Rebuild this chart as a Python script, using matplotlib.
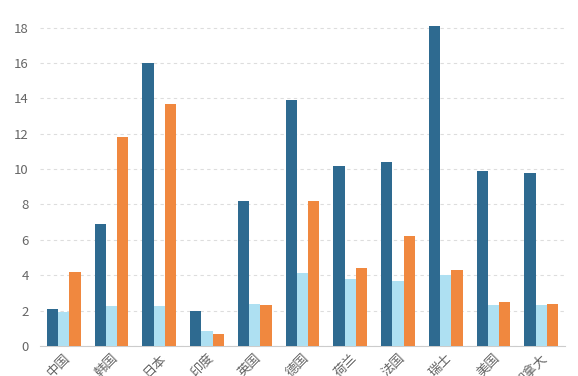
import matplotlib
matplotlib.use("Agg")
import matplotlib.pyplot as plt
import numpy as np

plt.rcParams['font.family'] = ['Noto Sans CJK SC', 'DejaVu Sans']

categories = ["中国", "韩国", "日本", "印度", "英国", "德国", "荷兰", "法国", "瑞士", "美国", "加拿大"]
series_a = [2.1, 6.9, 16.0, 2.0, 8.2, 13.9, 10.2, 10.4, 18.1, 9.9, 9.8]
series_b = [1.95, 2.25, 2.25, 0.85, 2.35, 4.1, 3.8, 3.65, 4.0, 2.3, 2.3]
series_c = [4.2, 11.8, 13.7, 0.7, 2.3, 8.2, 4.4, 6.2, 4.3, 2.5, 2.4]
yticks = [0, 2, 4, 6, 8, 10, 12, 14, 16, 18]

colors = ["#2e6a90", "#aee0f2", "#f0883f"]

fig = plt.figure(figsize=(5.78, 3.76), dpi=100)
ax = fig.add_axes([40/578, 30/376, 525/578, (346-17)/376])

x = np.arange(len(categories))
w = 0.235
ax.bar(x - w, series_a, w, color=colors[0], zorder=3)
ax.bar(x, series_b, w, color=colors[1], zorder=3)
ax.bar(x + w, series_c, w, color=colors[2], zorder=3)

ax.set_xlim(-0.5, len(categories) - 0.5)
ax.set_ylim(0, 18.6)
ax.set_yticks(yticks)
ax.set_yticklabels([str(v) for v in yticks])
ax.set_xticks(x)
ax.set_xticklabels(categories, rotation=45, ha='right', rotation_mode='anchor')

ax.yaxis.grid(True, linestyle=(0, (3, 3)), color='#dddddd', linewidth=0.8, zorder=0)
for s in ['top', 'right', 'left']:
    ax.spines[s].set_visible(False)
ax.spines['bottom'].set_color('#cccccc')
ax.tick_params(axis='y', length=0, labelsize=9.5, labelcolor='#666666', pad=8)
ax.tick_params(axis='x', length=0, labelsize=9.5, labelcolor='#666666', pad=4)

fig.savefig("out.png", dpi=100)
